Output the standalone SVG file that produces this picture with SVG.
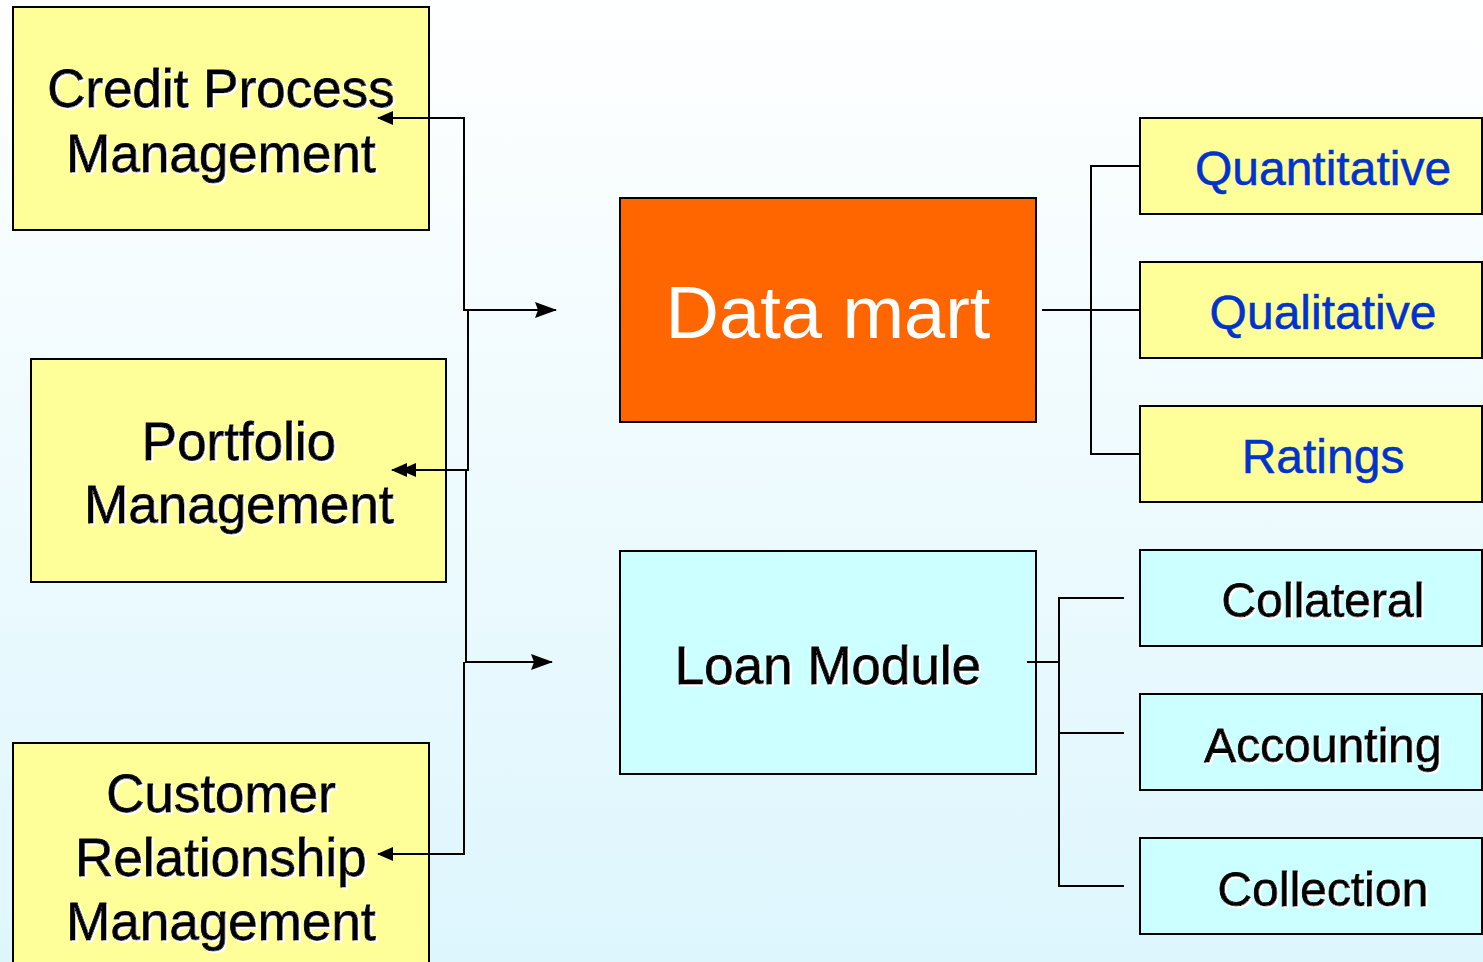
<svg xmlns="http://www.w3.org/2000/svg" width="1483" height="962" viewBox="0 0 1483 962">
  <defs>
    <linearGradient id="bg" x1="0" y1="0" x2="0" y2="1">
      <stop offset="0" stop-color="#FFFFFF"/>
      <stop offset="1" stop-color="#DDF6FD"/>
    </linearGradient>
    <filter id="halo" x="-5%" y="-5%" width="110%" height="110%">
      <feOffset in="SourceAlpha" dx="2" dy="2" result="o"/>
      <feFlood flood-color="#FFFFFF"/>
      <feComposite in2="o" operator="in" result="w"/>
      <feMerge><feMergeNode in="w"/><feMergeNode in="SourceGraphic"/></feMerge>
    </filter>
    <marker id="arrow" viewBox="0 0 16 14" refX="15" refY="7" markerWidth="16" markerHeight="14" markerUnits="userSpaceOnUse" orient="auto-start-reverse" overflow="visible">
      <path d="M0,0 L16,7 L0,14 Z" fill="#000"/>
    </marker>
    <marker id="arrowL" viewBox="0 0 22 16" refX="21" refY="8" markerWidth="22" markerHeight="16" markerUnits="userSpaceOnUse" orient="auto-start-reverse" overflow="visible">
      <path d="M0,0 L22,8 L0,16 L3,8 Z" fill="#000"/>
    </marker>
  </defs>
  <style>
    .box { stroke: #000; stroke-width: 2; }
    .yellow { fill: #FFFF99; }
    .cyan { fill: #CCFFFF; }
    .orange { fill: #FF6600; }
    .t { font-family: "Liberation Sans", Arial, sans-serif; text-anchor: middle; }
    .dark { fill: #000; stroke: #000; stroke-width: 0.8; filter: url(#halo); }
    .blue { fill: #0033CC; stroke: #0033CC; stroke-width: 0.5; }
    .wire { fill: none; stroke: #000; stroke-width: 2; }
  </style>

  <rect x="0" y="0" width="1483" height="962" fill="url(#bg)"/>

  <g id="credit-process">
    <rect class="box yellow" x="13" y="7" width="416" height="223"/>
    <text class="t dark" x="221" y="107" font-size="53">Credit Process</text>
    <text class="t dark" x="221" y="172" font-size="53">Management</text>
  </g>

  <g id="portfolio">
    <rect class="box yellow" x="31" y="359" width="415" height="223"/>
    <text class="t dark" x="239" y="460" font-size="53">Portfolio</text>
    <text class="t dark" x="239" y="523" font-size="53">Management</text>
  </g>

  <g id="crm">
    <rect class="box yellow" x="13" y="743" width="416" height="230"/>
    <text class="t dark" x="221" y="812" font-size="53">Customer</text>
    <text class="t dark" x="221" y="876" font-size="53">Relationship</text>
    <text class="t dark" x="221" y="940" font-size="53">Management</text>
  </g>

  <g id="data-mart">
    <rect class="box orange" x="620" y="198" width="416" height="224"/>
    <text class="t" x="828" y="338" font-size="74" fill="#FFFFFF">Data mart</text>
  </g>

  <g id="loan-module">
    <rect class="box cyan" x="620" y="551" width="416" height="223"/>
    <text class="t dark" x="828" y="684" font-size="53">Loan Module</text>
  </g>

  <g id="quantitative">
    <rect class="box yellow" x="1140" y="118" width="342" height="96"/>
    <text class="t blue" x="1323" y="185" font-size="48">Quantitative</text>
  </g>
  <g id="qualitative">
    <rect class="box yellow" x="1140" y="262" width="342" height="96"/>
    <text class="t blue" x="1323" y="329" font-size="48">Qualitative</text>
  </g>
  <g id="ratings">
    <rect class="box yellow" x="1140" y="406" width="342" height="96"/>
    <text class="t blue" x="1323" y="473" font-size="48">Ratings</text>
  </g>

  <g id="collateral">
    <rect class="box cyan" x="1140" y="550" width="342" height="96"/>
    <text class="t dark" x="1323" y="617" font-size="48">Collateral</text>
  </g>
  <g id="accounting">
    <rect class="box cyan" x="1140" y="694" width="342" height="96"/>
    <text class="t dark" x="1323" y="762" font-size="48">Accounting</text>
  </g>
  <g id="collection">
    <rect class="box cyan" x="1140" y="838" width="342" height="96"/>
    <text class="t dark" x="1323" y="906" font-size="48">Collection</text>
  </g>

  <g id="connectors">
    <!-- left bus: management areas to the data stores -->
    <path class="wire" d="M378,118 H464 V310 H556" marker-start="url(#arrow)" marker-end="url(#arrowL)"/>
    <path class="wire" d="M468,310 V470 H392" marker-end="url(#arrow)"/>
    <path class="wire" d="M468,470 H401" marker-end="url(#arrow)"/>
    <path class="wire" d="M466,470 V662 H552" marker-end="url(#arrowL)"/>
    <path class="wire" d="M464,662 V854 H378" marker-end="url(#arrow)"/>

    <!-- data mart branches -->
    <path class="wire" d="M1042,310 H1091" stroke-width="3"/>
    <path class="wire" d="M1091,310 H1140"/>
    <path class="wire" d="M1140,166 H1091 V454 H1140"/>

    <!-- loan module branches -->
    <path class="wire" d="M1027,662 H1059"/>
    <path class="wire" d="M1124,598 H1059 V886 H1124"/>
    <path class="wire" d="M1059,733 H1124"/>
  </g>
</svg>
